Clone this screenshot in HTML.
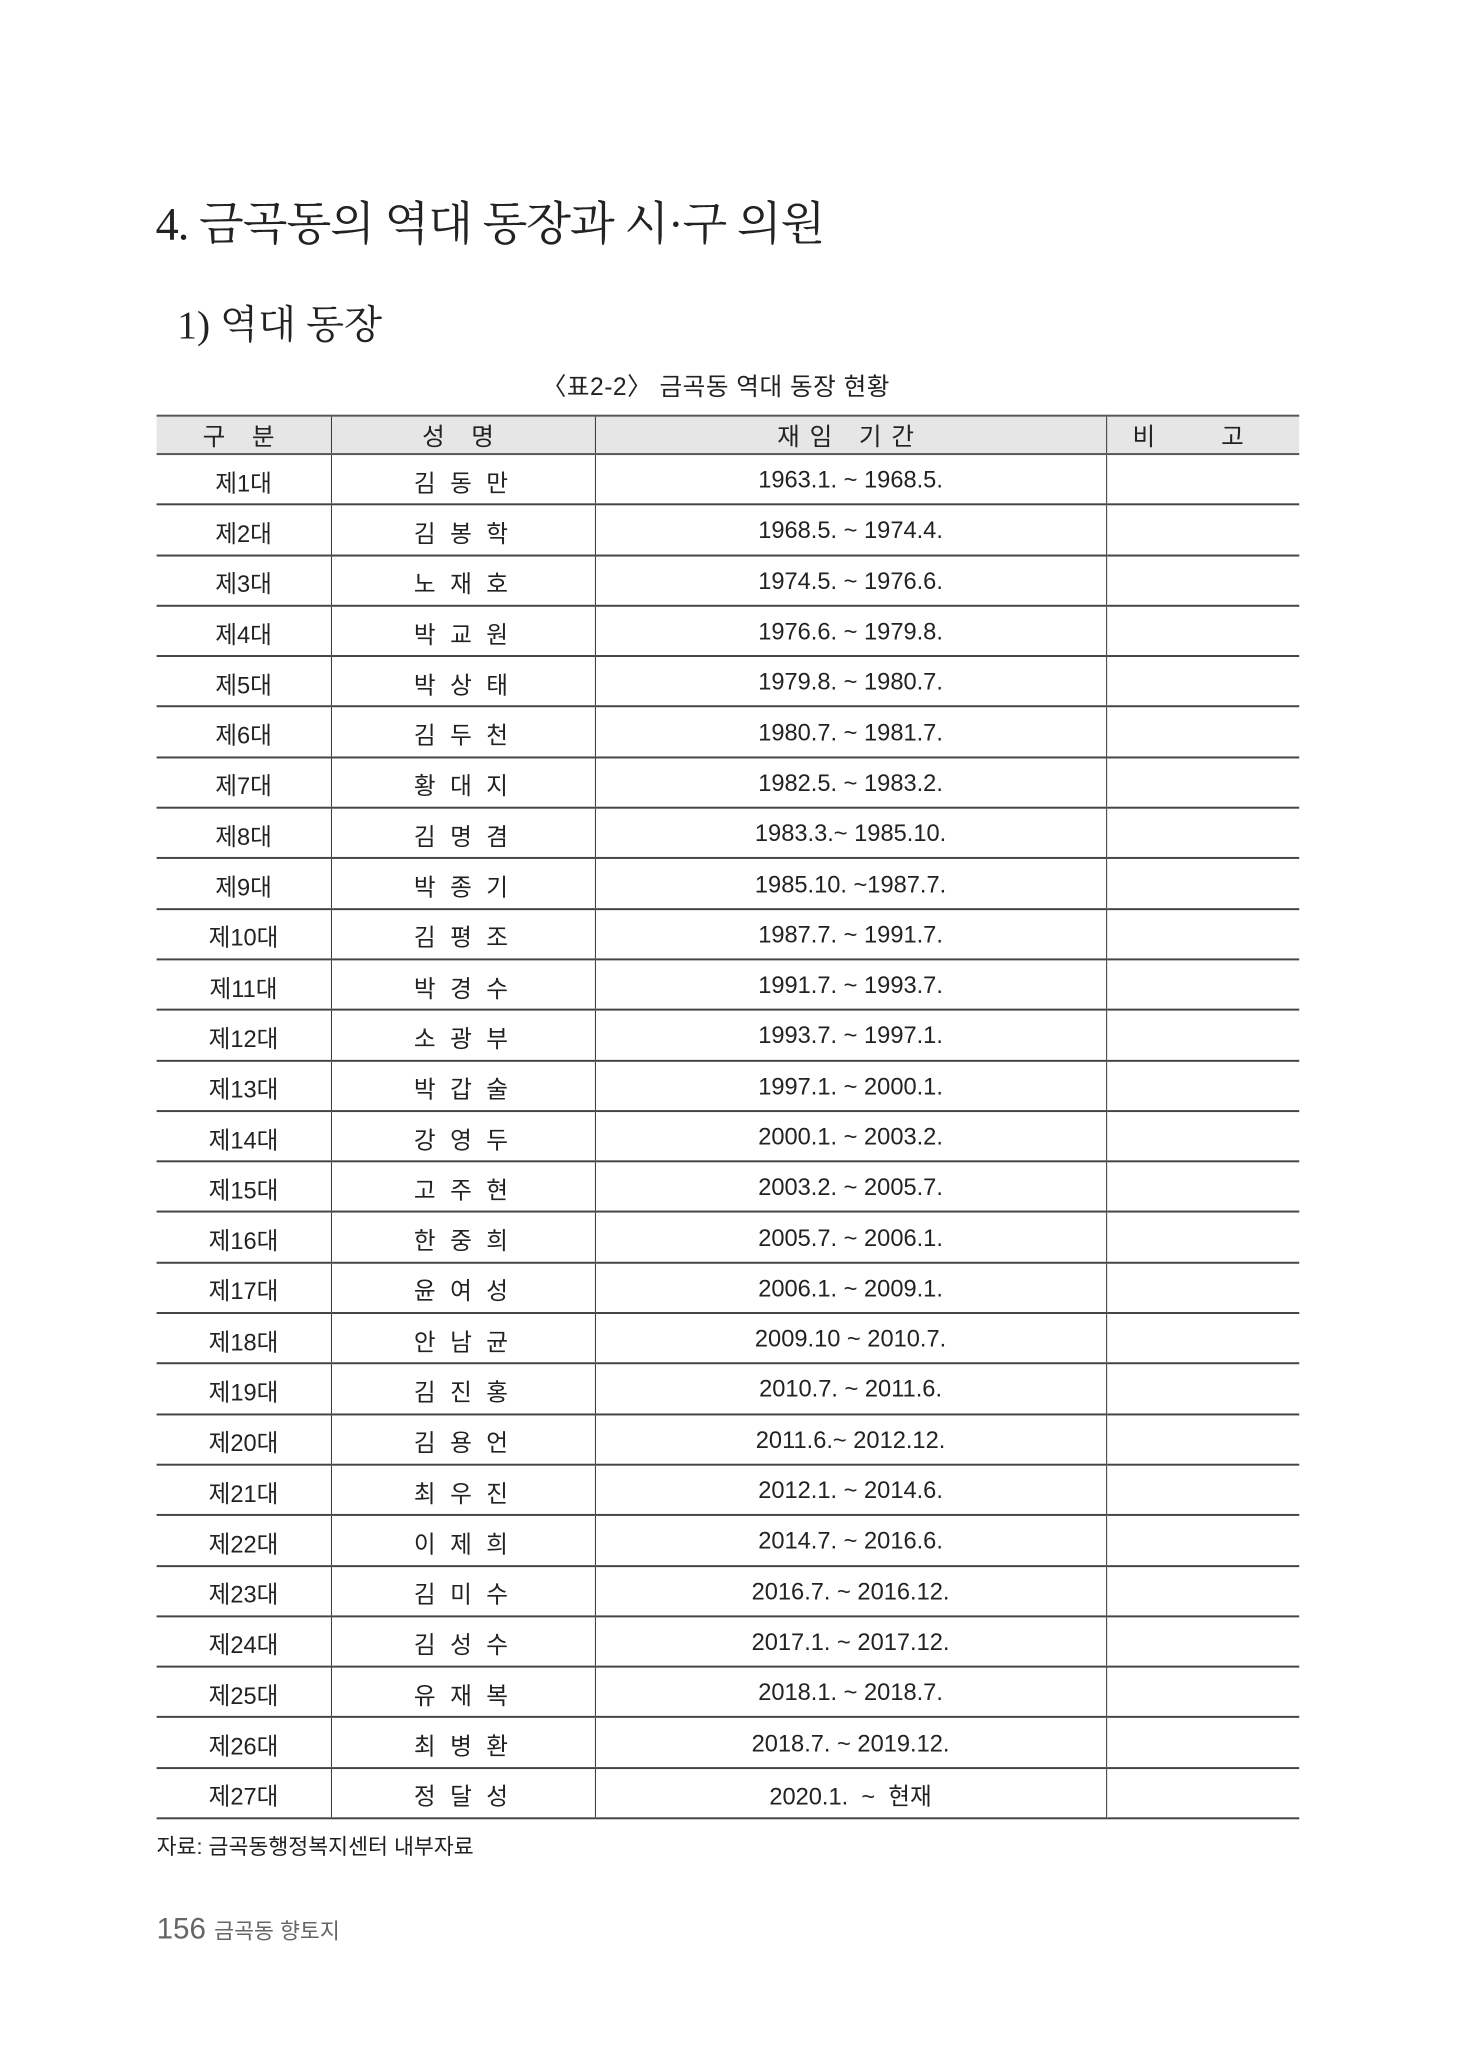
<!DOCTYPE html>
<html><head><meta charset="utf-8">
<style>
body{margin:0;width:1457px;height:2048px;background:#fff;position:relative;overflow:hidden;font-family:"Liberation Sans","Noto Sans CJK KR",sans-serif;color:#222}
#wrap{position:absolute;left:0;top:0;width:1480px;height:2080px;transform:scale(0.985);transform-origin:0 0}
.t{position:absolute;white-space:nowrap}
#title{left:158px;top:190px;font-family:"Liberation Serif","Noto Serif CJK SC",serif;font-size:47px;letter-spacing:-1px}
#sub{left:180px;top:298px;font-family:"Liberation Serif","Noto Serif CJK SC",serif;font-size:40px}
#cap{left:550px;top:373px;font-size:25px;letter-spacing:0.5px}
table{position:absolute;left:159px;top:421px;width:1160px;border-collapse:collapse}
th{background:#e6e6e6;font-weight:normal;height:37px;font-size:25px;padding:0;border-top:2px solid #555;border-bottom:2px solid #555;letter-spacing:10px}
td{height:46.3px;padding:3px 0 0 0;text-align:center;font-size:24px;border-bottom:2px solid #444}
th,td{border-left:1px solid #333}
th:first-child,td:first-child{border-left:none}
.n{letter-spacing:4px}
#src{left:159px;top:1857px;font-size:22px}
#pg{left:159px;top:1942px;font-size:30px;color:#666}
#pg span{font-size:22px}
</style></head><body>
<div id="wrap">
<div class="t" id="title">4. 금곡동의 역대 동장과 시·구 의원</div>
<div class="t" id="sub">1) 역대 동장</div>
<div class="t" id="cap">〈표2-2〉 금곡동 역대 동장 현황</div>
<table>
<colgroup><col style="width:177px"><col style="width:268px"><col style="width:519px"><col></colgroup>
<thead><tr><th>구 분</th><th>성 명</th><th>재임 기간</th><th style="letter-spacing:30px">비 고</th></tr></thead>
<tbody id="tb"></tbody></table>
<div class="t" id="src">자료: 금곡동행정복지센터 내부자료</div>
<div class="t" id="pg">156 <span>금곡동 향토지</span></div>
</div>
<script>
const names=["김 동 만","김 봉 학","노 재 호","박 교 원","박 상 태","김 두 천","황 대 지","김 명 겸","박 종 기","김 평 조","박 경 수","소 광 부","박 갑 술","강 영 두","고 주 현","한 중 희","윤 여 성","안 남 균","김 진 홍","김 용 언","최 우 진","이 제 희","김 미 수","김 성 수","유 재 복","최 병 환","정 달 성"];
const terms=["1963.1. ~ 1968.5.","1968.5. ~ 1974.4.","1974.5. ~ 1976.6.","1976.6. ~ 1979.8.","1979.8. ~ 1980.7.","1980.7. ~ 1981.7.","1982.5. ~ 1983.2.","1983.3.~ 1985.10.","1985.10. ~1987.7.","1987.7. ~ 1991.7.","1991.7. ~ 1993.7.","1993.7. ~ 1997.1.","1997.1. ~ 2000.1.","2000.1. ~ 2003.2.","2003.2. ~ 2005.7.","2005.7. ~ 2006.1.","2006.1. ~ 2009.1.","2009.10 ~ 2010.7.","2010.7. ~ 2011.6.","2011.6.~ 2012.12.","2012.1. ~ 2014.6.","2014.7. ~ 2016.6.","2016.7. ~ 2016.12.","2017.1. ~ 2017.12.","2018.1. ~ 2018.7.","2018.7. ~ 2019.12.","2020.1.  ~  현재"];
const tb=document.getElementById('tb');
names.forEach((n,i)=>{
 const tr=document.createElement('tr');
 
 
 const vals=['제'+(i+1)+'대',n,terms[i],''];
 vals.forEach((v,j)=>{const td=document.createElement('td');td.textContent=v;if(j==1)td.className='n';td.style.whiteSpace='pre';tr.appendChild(td);});
 tb.appendChild(tr);
});
</script>
</body></html>
